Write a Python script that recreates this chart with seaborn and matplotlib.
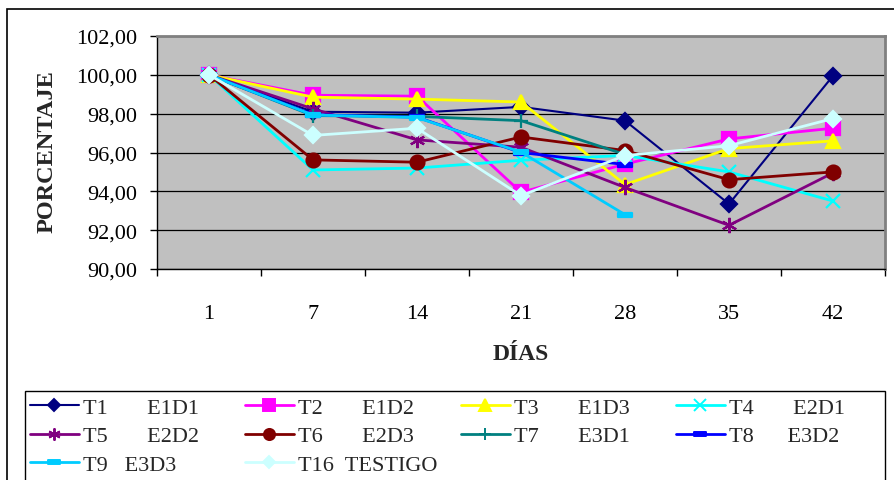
import numpy as np
import pandas as pd
import matplotlib
matplotlib.use("Agg")
import matplotlib.pyplot as plt
import seaborn as sns
from matplotlib.path import Path
from matplotlib.lines import Line2D
from matplotlib.patches import Rectangle

nan = np.nan
days = ["1", "7", "14", "21", "28", "35", "42"]
T1 = [100.0, 98.10, 98.05, 98.35, 97.64, 93.35, 99.95]
T2 = [100.0, 98.95, 98.90, 93.95, 95.40, 96.70, 97.25]
T3 = [100.0, 98.85, 98.75, 98.60, 94.35, 96.20, 96.60]
T4 = [100.0, 95.10, 95.20, 95.60, 95.85, 95.00, 93.50]
T5 = [100.0, 98.25, 96.65, 96.27, 94.20, 92.25, 94.95]
T6 = [100.0, 95.62, 95.50, 96.80, 96.10, 94.60, 95.00]
T7 = [100.0, 97.90, 97.86, 97.64, 95.90, nan, nan]
T8 = [100.0, 97.95, 97.82, 96.00, 95.38, nan, nan]
T9 = [100.0, 97.93, 97.80, 96.02, 92.80, nan, nan]
T16 = [100.0, 96.88, 97.25, 93.78, 95.84, 96.35, 97.75]

labels = ["T1       E1D1", "T2       E1D2", "T3       E1D3", "T4       E2D1",
          "T5       E2D2", "T6       E2D3", "T7       E3D1", "T8      E3D2",
          "T9   E3D3", "T16  TESTIGO"]
series = [T1, T2, T3, T4, T5, T6, T7, T8, T9, T16]

dash = Path([(-1, -0.3), (1, -0.3), (1, 0.3), (-1, 0.3), (-1, -0.3)],
            [Path.MOVETO, Path.LINETO, Path.LINETO, Path.LINETO, Path.CLOSEPOLY])
styles = [
    dict(color="#000080", marker="D", ms=8, lw=1.5),
    dict(color="#FF00FF", marker="s", ms=10, lw=2),
    dict(color="#FFFF00", marker="^", ms=10, lw=2),
    dict(color="#00FFFF", marker="x", ms=10, lw=2),
    dict(color="#800080", marker=(6, 2, 0), ms=11, lw=2),
    dict(color="#800000", marker="o", ms=10, lw=2),
    dict(color="#008080", marker="+", ms=10, lw=2),
    dict(color="#0000FF", marker=dash, ms=10, lw=2),
    dict(color="#00CCFF", marker=dash, ms=10, lw=2),
    dict(color="#CCFFFF", marker="D", ms=8, lw=2),
]

sns.set_theme(style="white")
plt.rcParams["font.family"] = ["Liberation Serif", "DejaVu Serif"]

W, H = 895, 481
fig = plt.figure(figsize=(W / 100, H / 100), dpi=100)
L, R, T, B = 157, 885, 37, 270
ax = fig.add_axes([L / W, 1 - B / H, (R - L) / W, (B - T) / H])
ax.set_facecolor("#C0C0C0")

pos = list(range(len(days)))
handles = []
for lab, vals, st in zip(labels, series, styles):
    df = pd.DataFrame({"x": pos, "y": vals})
    sns.lineplot(data=df, x="x", y="y", ax=ax, color=st["color"], lw=st["lw"],
                 marker=st["marker"], markersize=st["ms"],
                 markeredgecolor=st["color"], markerfacecolor=st["color"],
                 markeredgewidth=1.6, errorbar=None, legend=False)
    handles.append(Line2D([], [], color=st["color"], lw=st["lw"], marker=st["marker"],
                          ms=st["ms"] * 0.8, mec=st["color"], mfc=st["color"], mew=1.4))

ax.set_ylim(90, 102)
ax.set_yticks(np.arange(90, 102.01, 2))
ax.set_yticklabels([f"{v:.2f}".replace(".", ",") for v in np.arange(90, 102.01, 2)])
ax.set_xlim(-0.5, len(days) - 0.5)
ax.set_xticks(pos)
ax.set_xticklabels(days)
ax.set_xticks(np.arange(-0.5, len(days), 1), minor=True)
ax.grid(axis="y", color="black", lw=0.9)
ax.grid(axis="x", visible=False)
ax.set_axisbelow(True)
ax.tick_params(axis="x", which="major", length=0, pad=25, labelsize=16, colors="black")
ax.tick_params(axis="x", which="minor", length=5, width=1, direction="out", color="black", bottom=True)
ax.tick_params(axis="y", length=5, width=1, direction="out", pad=9, labelsize=16, left=True, colors="black")
ax.set_xlabel("")
ax.set_ylabel("")
for s in ["left", "bottom"]:
    ax.spines[s].set_color("black")
    ax.spines[s].set_linewidth(1)
for s in ["top", "right"]:
    ax.spines[s].set_color("#808080")
    ax.spines[s].set_linewidth(2)

fig.text(47 / W, 1 - 152 / H, "PORCENTAJE", rotation=90, ha="center", va="center",
         fontsize=17.5, fontweight="bold")
fig.text(521 / W, 1 - 355 / H, "DÍAS", ha="center", va="center", fontsize=17, fontweight="bold")

# outer chart border
fig.add_artist(Rectangle((7 / W, -0.1), 1.2, 1 - 10 / H + 0.1, transform=fig.transFigure,
                         fill=False, ec="black", lw=1.2))
# legend frame
fig.add_artist(Rectangle((25 / W, -0.1), 860 / W, 1 - 392 / H + 0.1, transform=fig.transFigure,
                         fill=False, ec="black", lw=1))

cols = [[0, 4, 8], [1, 5, 9], [2, 6], [3, 7]]
xs = [30, 245, 461, 676]
for cx, idx in zip(xs, cols):
    lg = fig.legend([handles[i] for i in idx], [labels[i] for i in idx],
                    loc="upper left", bbox_to_anchor=(cx / W, 1 - 398 / H),
                    bbox_transform=fig.transFigure, frameon=False, fontsize=16,
                    borderpad=0, borderaxespad=0, handlelength=2.2, handletextpad=0.2,
                    labelspacing=0.37, numpoints=1)

fig.savefig("out.png", dpi=100)
